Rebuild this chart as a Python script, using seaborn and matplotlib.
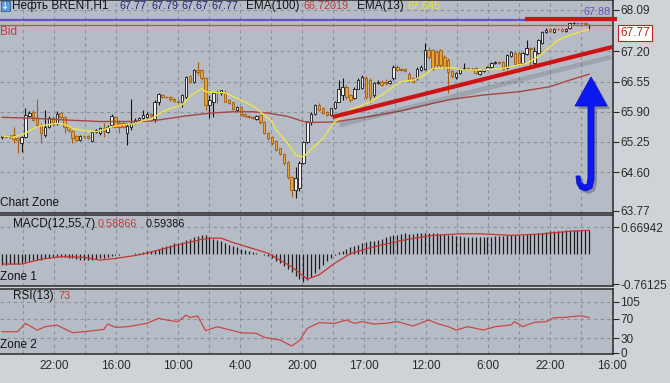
import numpy as np
import pandas as pd
import matplotlib
matplotlib.use("Agg")
import matplotlib.pyplot as plt
import seaborn as sns
from matplotlib.patches import Polygon, Rectangle
from matplotlib.lines import Line2D

# ---------------- data ----------------
opens = [65.35,65.37,65.36,65.40,65.33,65.22,65.36,65.81,65.90,65.76,
         65.62,65.40,65.58,65.76,65.65,65.87,65.79,65.58,65.48,65.37,
         65.30,65.38,65.37,65.26,65.47,65.44,65.56,65.47,65.62,65.78,
         65.65,65.66,65.45,65.58,65.66,65.72,65.76,65.79,65.85,
         65.74,66.10,66.27,66.22,66.21,66.17,66.14,66.12,66.22,66.66,
         66.55,66.80,66.80,66.62,66.05,66.12,66.31,66.30,66.33,66.15,
         66.10,65.94,66.00,65.85,65.81,65.79,65.74,65.82,65.68,65.44,
         65.36,65.28,65.11,64.99,64.81,64.50,64.22,64.25,
         64.80,65.25,65.68,65.86,66.04,65.97,65.90,65.83,65.97,66.12,
         66.26,66.44,66.26,66.19,66.40,66.42,66.62,66.58,66.26,66.52,
         66.55,66.55,66.51,66.62,66.87,66.81,66.82,66.72,66.62,66.62,
         66.80,66.83,67.23,67.23,67.19,67.23,67.08,
         67.01,66.78,66.64,66.73,66.82,66.84,66.82,66.84,66.72,66.78,
         66.82,66.87,66.94,66.98,66.97,66.85,67.10,67.16,67.16,66.94,
         67.15,67.28,66.95,67.16,67.37,67.62,67.68,67.62,67.69,67.68,
         67.63,67.70,67.80,67.82,67.82,67.81,67.77]
highs = [65.39,65.40,65.41,65.58,65.36,65.38,65.97,65.92,65.93,66.17,
         65.66,65.94,65.80,65.80,65.92,65.90,65.81,65.60,65.50,65.39,
         65.40,65.40,65.39,65.49,65.53,65.57,65.65,65.62,65.85,65.80,
         65.72,65.68,65.65,66.17,65.76,65.79,65.94,65.89,65.88,
         66.16,66.31,66.29,66.24,66.24,66.19,66.16,66.28,66.68,66.70,
         66.83,66.96,66.82,66.64,66.26,66.33,66.37,66.37,66.36,66.17,
         66.12,66.03,66.02,65.87,65.83,65.81,65.83,65.84,65.70,65.46,
         65.38,65.30,65.13,65.01,64.83,64.52,64.72,64.83,
         65.28,65.70,65.90,66.06,66.08,66.00,65.92,65.99,66.14,66.58,
         66.62,66.48,66.28,66.44,66.62,66.70,66.66,66.62,66.55,66.58,
         66.58,66.60,66.58,66.90,66.90,66.84,66.84,66.75,66.65,66.86,
         66.90,67.37,67.30,67.26,67.22,67.26,67.12,
         67.05,66.80,66.76,66.84,66.94,66.86,66.85,66.86,66.80,66.83,
         66.89,66.96,67.00,67.00,67.00,67.14,67.21,67.18,67.18,67.18,
         67.44,67.30,67.30,67.46,67.64,67.70,67.70,67.71,67.71,67.70,
         67.71,67.82,67.84,67.84,67.84,67.83,67.79]
lows = [65.31,65.33,65.34,65.22,65.01,65.04,65.33,65.78,65.70,65.58,
        65.22,65.36,65.55,65.60,65.62,65.76,65.44,65.46,65.22,65.27,
        65.28,65.34,65.31,65.24,65.45,65.40,65.36,65.45,65.58,65.55,
        65.44,65.55,65.19,65.50,65.64,65.70,65.74,65.77,65.78,
        65.68,66.05,66.19,66.19,66.13,66.11,66.09,66.01,66.18,66.52,
        66.52,66.70,66.58,65.94,65.76,65.79,66.08,66.25,66.10,66.06,
        65.93,65.92,65.81,65.79,65.77,65.75,65.72,65.64,65.42,65.30,
        65.18,65.05,64.96,64.75,64.45,64.07,64.04,64.20,
        64.77,65.22,65.62,65.84,65.92,65.85,65.80,65.81,65.95,66.10,
        66.15,66.18,66.12,66.17,66.38,66.38,66.18,66.08,66.22,66.50,
        66.45,66.48,66.49,66.58,66.77,66.77,66.75,66.55,66.51,66.58,
        66.78,66.80,67.04,66.80,66.87,66.85,66.83,
        66.30,66.62,66.60,66.71,66.79,66.80,66.80,66.71,66.70,66.76,
        66.80,66.85,66.92,66.92,66.80,66.83,67.08,66.90,66.92,66.92,
        67.13,66.91,66.90,67.14,67.35,67.60,67.62,67.60,67.66,67.62,
        67.61,67.68,67.78,67.79,67.78,67.76,67.67]
closes = [65.37,65.36,65.38,65.31,65.30,65.36,65.83,65.88,65.72,65.62,
          65.44,65.58,65.76,65.64,65.86,65.79,65.58,65.51,65.33,65.30,
          65.38,65.37,65.33,65.47,65.50,65.55,65.48,65.58,65.81,65.58,
          65.58,65.58,65.60,65.66,65.73,65.76,65.83,65.86,65.80,
          66.10,66.28,66.22,66.21,66.17,66.14,66.12,66.26,66.65,66.55,
          66.80,66.75,66.62,66.05,66.15,66.30,66.30,66.36,66.12,66.08,
          65.95,66.00,65.83,65.81,65.79,65.77,65.81,65.67,65.44,65.33,
          65.22,65.08,64.99,64.79,64.50,64.22,64.47,64.80,
          65.25,65.68,65.86,66.04,65.94,65.87,65.83,65.97,66.12,66.40,
          66.44,66.22,66.15,66.40,66.58,66.65,66.22,66.22,66.51,66.55,
          66.48,66.51,66.56,66.87,66.80,66.80,66.78,66.58,66.55,66.83,
          66.87,67.23,67.08,66.83,66.90,66.90,66.87,
          66.76,66.68,66.73,66.82,66.85,66.82,66.83,66.73,66.78,66.82,
          66.87,66.94,66.98,66.94,66.83,67.12,67.19,66.92,66.94,67.16,
          67.27,67.24,67.20,67.44,67.62,67.66,67.64,67.69,67.68,67.64,
          67.69,67.80,67.82,67.81,67.80,67.78,67.77]

ema13_bar = [0, 3, 6, 8, 10, 14, 16, 18, 21, 24, 26, 28, 31, 34, 36, 38, 41, 43, 46, 48,
             51, 52, 55, 57, 59, 62, 65, 67, 69, 70, 73, 75, 77, 82, 85, 89, 94, 97, 100,
             102, 105, 107, 109, 110, 115, 118, 123, 128, 132, 134, 137, 140, 142, 145, 149, 150]
ema13_val = [65.38, 65.35, 65.44, 65.54, 65.60, 65.65, 65.63, 65.54, 65.49, 65.47, 65.51,
             65.58, 65.62, 65.64, 65.71, 65.74, 65.90, 65.97, 66.05, 66.23, 66.40, 66.33,
             66.31, 66.31, 66.23, 66.12, 65.97, 65.83, 65.69, 65.51, 65.22, 64.97, 64.93,
             65.33, 65.68, 65.94, 66.11, 66.26, 66.44, 66.55, 66.58, 66.65, 66.76, 66.83,
             66.85, 66.80, 66.80, 66.83, 66.91, 66.94, 67.09, 67.30, 67.44, 67.55, 67.65, 67.67]
ema100_bar = [0, 8, 17, 25, 34, 38, 43, 47, 51, 55, 59, 64, 68, 73, 77, 79, 85, 94, 102,
              110, 115, 123, 132, 140, 145, 150]
ema100_val = [65.78, 65.76, 65.72, 65.69, 65.69, 65.70, 65.76, 65.81, 65.85, 65.88, 65.90,
              65.90, 65.87, 65.80, 65.69, 65.67, 65.68, 65.80, 65.92, 66.08, 66.17, 66.26,
              66.33, 66.44, 66.58, 66.71]

macd_hist = [-0.28, -0.28, -0.27, -0.27, -0.26, -0.24,
             -0.20, -0.18, -0.17, -0.16, -0.16,
             -0.12, -0.10, -0.09, -0.08, -0.08, -0.09, -0.10,
             -0.12, -0.14, -0.15, -0.16, -0.16, -0.15, -0.14, -0.12,
             -0.10, -0.08, -0.06, -0.04, -0.03, -0.02, -0.01, 0.00, 0.01, 0.02,
             0.04, 0.06, 0.08, 0.10, 0.12,
             0.16, 0.20, 0.23, 0.26, 0.28, 0.30,
             0.34, 0.38, 0.42, 0.45, 0.47, 0.46,
             0.42, 0.38, 0.35, 0.31, 0.27, 0.23,
             0.19, 0.16, 0.12, 0.09, 0.06, 0.04,
             0.02, 0.00, -0.03, -0.07,
             -0.12, -0.18, -0.24, -0.30, -0.38,
             -0.46, -0.55, -0.63, -0.70,
             -0.66, -0.58, -0.48, -0.38, -0.28, -0.18, -0.10,
             -0.03, 0.03, 0.08, 0.12, 0.16, 0.20,
             0.23, 0.26, 0.29, 0.31, 0.33, 0.35, 0.38, 0.41, 0.44, 0.46,
             0.48, 0.50, 0.51, 0.50, 0.50, 0.51, 0.52, 0.53, 0.53, 0.52, 0.51, 0.50,
             0.49, 0.48, 0.46, 0.45, 0.44, 0.43, 0.42, 0.42, 0.42, 0.42, 0.42, 0.43, 0.43,
             0.44, 0.45, 0.45, 0.46, 0.46, 0.47, 0.48, 0.48, 0.49, 0.50, 0.50, 0.51,
             0.53, 0.55, 0.56, 0.57, 0.58, 0.58, 0.59, 0.59, 0.59, 0.59, 0.59, 0.59, 0.594]
signal_bar = [0, 5, 10, 15, 21, 25, 29, 35, 40, 45, 51, 53, 56, 59, 68, 74, 78, 81, 85,
              89, 94, 102, 109, 117, 122, 130, 137, 145, 150]
signal_val = [-0.26, -0.26, -0.14, -0.075, -0.09, -0.16, -0.12, -0.03, 0.09, 0.22, 0.36,
              0.39, 0.39, 0.28, 0.01, -0.33, -0.64, -0.53, -0.24, 0.0, 0.15, 0.33, 0.45,
              0.50, 0.50, 0.46, 0.49, 0.56, 0.589]

rsi_bar = [0, 4, 6, 9, 11, 14, 18, 21, 26, 27, 29, 32, 36, 37, 40, 43, 45, 47, 48, 50,
           52, 55, 59, 61, 65, 67, 71, 74, 76, 78, 81, 85, 88, 90, 92, 95, 98, 101, 105,
           109, 111, 114, 116, 119, 123, 126, 130, 131, 133, 136, 139, 141, 144, 147, 148, 150]
rsi_val = [43.8, 43.8, 61.0, 47.0, 54.0, 57.6, 41.8, 43.8, 48.5, 59.7, 52.8, 54.0, 59.7,
           61.0, 71.3, 66.5, 64.5, 78.0, 73.4, 76.0, 45.9, 54.0, 45.9, 41.8, 40.4, 32.2,
           26.8, 14.4, 25.4, 50.8, 62.4, 61.0, 67.9, 61.1, 64.5, 59.7, 61.1, 64.5, 55.6,
           67.9, 61.1, 54.2, 47.3, 54.2, 47.3, 54.2, 57.6, 64.5, 54.2, 63.1, 64.5, 72.7,
           73.4, 76.1, 76.1, 73.0]

price_ticks = [68.09, 67.20, 66.55, 65.90, 65.25, 64.60, 63.77]
macd_ticks = [0.66942, -0.76125]
macd_tick_labels = ["0.66942", "-0.76125"]
rsi_ticks = [105, 70, 30, 0]
time_labels = ["22:00", "16:00", "10:00", "4:00", "20:00", "17:00", "12:00", "6:00", "22:00", "16:00"]

level_ask = 67.88
level_bid = 67.77

n = len(closes)
assert len(opens) == n and len(highs) == n and len(lows) == n and len(macd_hist) == n
assert len(ema13_bar) == len(ema13_val) and len(ema100_bar) == len(ema100_val)
assert len(signal_bar) == len(signal_val) and len(rsi_bar) == len(rsi_val)

candles = pd.DataFrame({"bar": np.arange(n), "open": opens, "high": highs,
                        "low": lows, "close": closes})
ema13 = pd.DataFrame({"bar": ema13_bar, "value": ema13_val})
ema100 = pd.DataFrame({"bar": ema100_bar, "value": ema100_val})
macd = pd.DataFrame({"bar": np.arange(n), "hist": macd_hist})
signal = pd.DataFrame({"bar": signal_bar, "value": signal_val})
rsi = pd.DataFrame({"bar": rsi_bar, "value": rsi_val})

# ---------------- style ----------------
sns.set_theme(style="white")
plt.rcParams["font.family"] = ["Liberation Sans", "DejaVu Sans"]
plt.rcParams["axes.unicode_minus"] = False

W, H = 670, 383
FIG_BG = "#CFD2D6"
PLOT_BG = "#B6BCC5"
GRID = "#8A919A"
DARK = "#2A2A2A"

def fx(x):
    return x / W

def fy(y):
    return 1 - y / H

fig = plt.figure(figsize=(6.7, 3.83), dpi=100, facecolor=FIG_BG)
RIGHT = 612.5
ax_main = fig.add_axes([0, fy(213), fx(RIGHT), fy(0) - fy(213)])
ax_macd = fig.add_axes([0, fy(286), fx(RIGHT), fy(215) - fy(286)])
ax_rsi = fig.add_axes([0, fy(354), fx(RIGHT), fy(289) - fy(354)])

STEP = 3.92
XMIN, XMAX = -0.5, 155.95
grid_pos = [(21 + 31.05 * k) / STEP for k in range(20)]
grid_labels = []
j = 0
for k in range(20):
    if k % 2 == 1:
        grid_labels.append(time_labels[j]); j += 1
    else:
        grid_labels.append("")

for ax in (ax_main, ax_macd, ax_rsi):
    ax.set_facecolor(PLOT_BG)
    ax.spines["left"].set_visible(False)
    for s in ("top", "right", "bottom"):
        ax.spines[s].set_color(DARK)
        ax.spines[s].set_linewidth(1.1)
    ax.yaxis.tick_right()
    ax.tick_params(axis="y", direction="out", length=4, width=0.8, colors=DARK,
                   labelsize=8.5, pad=1.5)
    ax.set_xlim(XMIN, XMAX)
    ax.set_xticks(grid_pos)
    ax.grid(axis="x", color=GRID, ls=(0, (3, 3)), lw=0.8)
    ax.grid(axis="y", visible=False)
    ax.tick_params(axis="x", length=0)
    ax.set_xticklabels([])
    ax.set_axisbelow(True)

# ---------------- main price panel ----------------
ax_main.set_ylim(63.721, 68.305)
ax_main.set_yticks(price_ticks)
ax_main.set_yticklabels([f"{v:.2f}" for v in price_ticks])
for lv in price_ticks[:-1]:
    ax_main.axhline(lv, color=GRID, ls=(0, (3, 3)), lw=0.8, zorder=0.5)

up = candles[candles["close"] >= candles["open"]]
dn = candles[candles["close"] < candles["open"]]
ax_main.vlines(up["bar"], up["low"], up["high"], color="#151515", lw=0.8, zorder=2)
ax_main.vlines(dn["bar"], dn["low"], dn["high"], color="#A25C14", lw=0.8, zorder=2)
ax_main.bar(up["bar"], up["close"] - up["open"], bottom=up["open"], width=0.62,
            color="#EEEEEE", edgecolor="#151515", lw=0.6, zorder=2.2)
ax_main.bar(dn["bar"], dn["close"] - dn["open"], bottom=dn["open"], width=0.62,
            color="#E9A234", edgecolor="#A25C14", lw=0.6, zorder=2.2)

sns.lineplot(data=ema100, x="bar", y="value", ax=ax_main, color="#A84646", lw=1.0,
             zorder=2.5)
sns.lineplot(data=ema13, x="bar", y="value", ax=ax_main, color="#EDE548", lw=1.0,
             zorder=3)

ax_main.axhline(level_ask, color="#6A4FC6", lw=1.6, zorder=3)
ax_main.axhline(level_bid, color="#D64646", lw=0.9, zorder=3)

# trend line with its soft shadow
def px2data(x, y):
    return (x - 2) / STEP, 68.09 - (y - 10) / 46.46

sx0, sy0 = px2data(340, 125)
sx1, sy1 = px2data(612, 57)
ax_main.plot([sx0, sx1], [sy0, sy1], color="#4A5058", lw=3.5, alpha=0.22,
             solid_capstyle="butt", zorder=3.2)
tx0, ty0 = px2data(333, 117)
tx1, ty1 = px2data(613, 47)
ax_main.plot([tx0, tx1], [ty0, ty1], color="#CC1414", lw=3.0,
             solid_capstyle="butt", zorder=3.5, clip_on=False)
ax_main.set_xlabel(""); ax_main.set_ylabel("")

# ---------------- MACD panel ----------------
ax_macd.set_ylim(-0.811, 0.971)
ax_macd.set_yticks(macd_ticks)
ax_macd.set_yticklabels(macd_tick_labels)
ax_macd.axhline(macd_ticks[0], color=GRID, ls=(0, (3, 3)), lw=0.8, zorder=0.5)
ax_macd.vlines(macd["bar"], 0, macd["hist"], color="#1C1C1C", lw=0.9, zorder=2)
sns.lineplot(data=signal, x="bar", y="value", ax=ax_macd, color="#C83232", lw=0.9,
             zorder=3)
ax_macd.set_xlabel(""); ax_macd.set_ylabel("")

# ---------------- RSI panel ----------------
ax_rsi.set_ylim(-2.06, 131.7)
ax_rsi.set_yticks(rsi_ticks)
ax_rsi.set_yticklabels([str(v) for v in rsi_ticks])
for lv in rsi_ticks[:-1]:
    ax_rsi.axhline(lv, color=GRID, ls=(0, (3, 3)), lw=0.8, zorder=0.5)
sns.lineplot(data=rsi, x="bar", y="value", ax=ax_rsi, color="#C84848", lw=0.9, zorder=3)
ax_rsi.set_xticklabels(grid_labels)
ax_rsi.tick_params(axis="x", labelsize=8.5, colors=DARK, pad=4)
ax_rsi.set_xlabel(""); ax_rsi.set_ylabel("")

# ---------------- header / labels ----------------
FS = 8.5
FN = 7.8
fig.add_artist(Rectangle((fx(1), fy(11)), fx(9), 10 / H, transform=fig.transFigure,
                         fc="#5E9BDA", ec="#2C5E9E", lw=0.6, zorder=6))
fig.text(fx(5.5), fy(6), "↓", color="white", fontsize=7, ha="center", va="center",
         family=["DejaVu Sans"], zorder=7)
fig.text(fx(12), fy(6), "Нефть BRENT,H1", color="#111111", fontsize=FS, va="center")
for xx, t in zip([120, 151, 181, 212], ["67.77", "67.79", "67.67", "67.77"]):
    fig.text(fx(xx), fy(6), t, color="#1F237E", fontsize=FN, va="center")
fig.text(fx(246), fy(6), "EMA(100)", color="#111111", fontsize=FS, va="center")
fig.text(fx(303), fy(6), "66.72019", color="#C23A3A", fontsize=FN, va="center")
fig.text(fx(357), fy(6), "EMA(13)", color="#111111", fontsize=FS, va="center")
fig.text(fx(407), fy(6), "67.645", color="#EEE422", fontsize=FN, va="center")

fig.text(fx(0), fy(32), "Bid", color="#C83A3A", fontsize=FS, va="center")
fig.text(fx(584), fy(12), "67.88", color="#6A50C0", fontsize=FN, va="center", zorder=4)
fig.text(fx(620), fy(33), "67.77", color="#C02020", fontsize=8.5, va="center", zorder=6,
         bbox=dict(boxstyle="square,pad=0.2", fc="white", ec="#C02020", lw=0.8))

fig.text(fx(0), fy(203), "Chart Zone", color="#111111", fontsize=FS, va="center")
fig.text(fx(13), fy(224), "MACD(12,55,7)", color="#111111", fontsize=FS, va="center")
fig.text(fx(98), fy(224), "0.58866", color="#C23A3A", fontsize=FN, va="center")
fig.text(fx(146), fy(224), "0.59386", color="#111111", fontsize=FN, va="center")
fig.text(fx(0), fy(277), "Zone 1", color="#111111", fontsize=FS, va="center")
fig.text(fx(13), fy(296), "RSI(13)", color="#111111", fontsize=FS, va="center")
fig.text(fx(58), fy(296), "73", color="#C23A3A", fontsize=FN, va="center")
fig.text(fx(0), fy(345), "Zone 2", color="#111111", fontsize=FS, va="center")

# thick red level marker at top right
fig.add_artist(Line2D([fx(525), fx(617)], [fy(18.5), fy(18.5)], transform=fig.transFigure,
                      color="#CC1414", lw=3.0, solid_capstyle="butt", zorder=8))

# blue arrow (annotation)
arrow_px = [(591, 77), (607, 106), (594, 106), (594, 180), (592, 188), (586, 191),
            (580, 189), (577, 184), (576, 176), (580, 176), (581, 182), (584, 185),
            (587, 184), (588, 178), (588, 106), (575, 106)]
shadow = [(fx(x + 3), fy(y + 3)) for x, y in arrow_px]
fig.add_artist(Polygon(shadow, closed=True, transform=fig.transFigure, fc="#2E3440",
                       ec="none", alpha=0.35, zorder=8))
fig.add_artist(Polygon([(fx(x), fy(y)) for x, y in arrow_px], closed=True,
                       transform=fig.transFigure, fc="#0C18F2", ec="#0A10C0", lw=0.6,
                       zorder=9))

fig.savefig("out.png", dpi=100, facecolor=FIG_BG)
